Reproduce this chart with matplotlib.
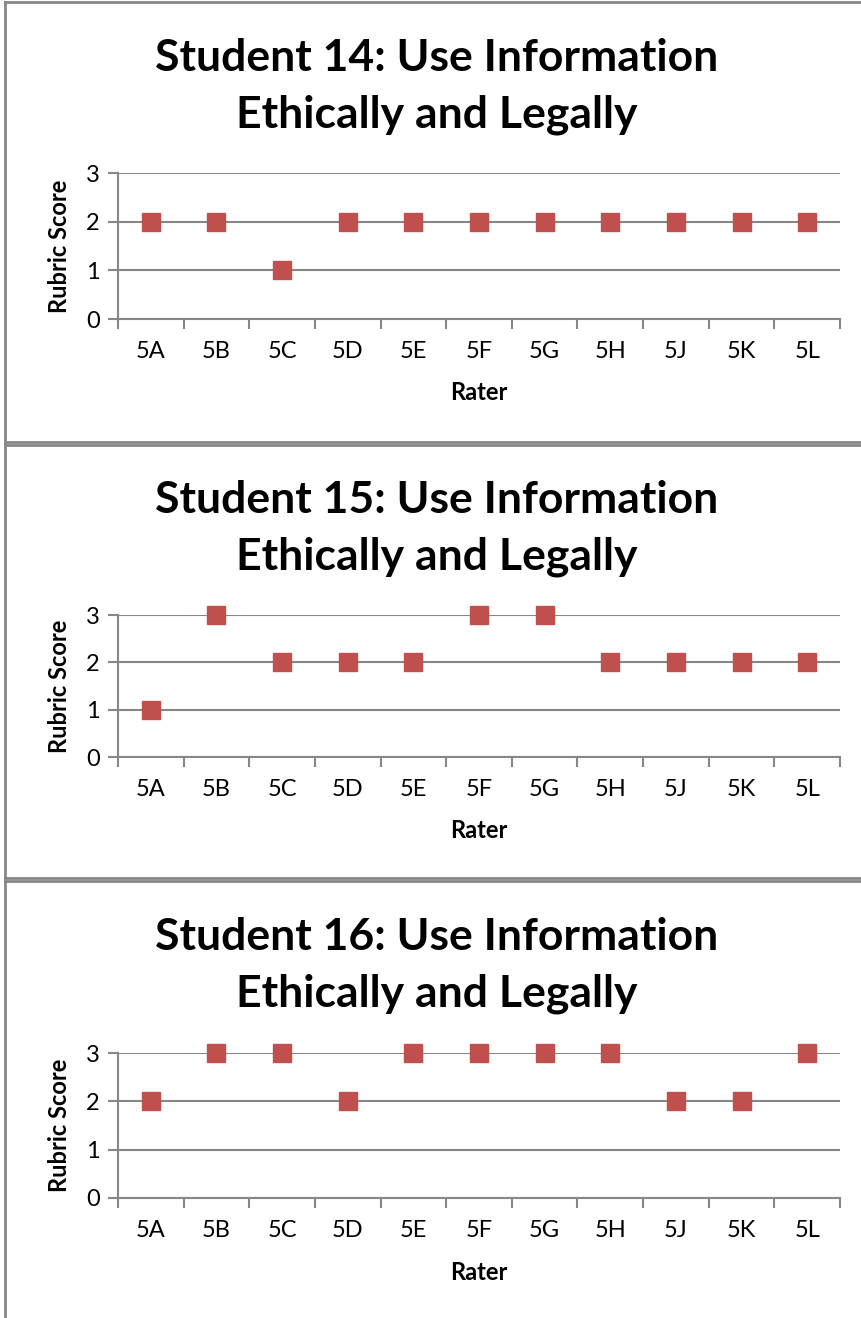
import matplotlib.pyplot as plt
import numpy as np

raters = ['5A', '5B', '5C', '5D', '5E', '5F', '5G', '5H', '5J', '5K', '5L']
students = ['Student 14', 'Student 15', 'Student 16']
score_14 = [2, 2, 1, 2, 2, 2, 2, 2, 2, 2, 2]
score_15 = [1, 3, 2, 2, 2, 3, 3, 2, 2, 2, 2]
score_16 = [2, 3, 3, 2, 3, 3, 3, 3, 2, 2, 3]
scores = [score_14, score_15, score_16]

W, H = 862, 1318
fig = plt.figure(figsize=(W / 100, H / 100), dpi=100)
plt.rcParams['font.family'] = ['Lato', 'DejaVu Sans']

grey = '#878787'
red = '#C0504D'

# pixel layout of each panel: box top, box bottom, axes top, axes bottom, title line ys
panels = [
    (2, 442, 173, 319, 58),
    (445, 878, 615, 757, 500),
    (881, None, 1053, 1198, 937),
]

def fx(x):
    return x / W

def fy(y):
    return 1 - y / H

for (top, bottom, ax_top, ax_bot, t_y), name, vals in zip(panels, students, scores):
    # panel frame
    fig.add_artist(plt.Line2D([fx(5.5), fx(5.5)], [fy(top), fy(bottom if bottom else H)],
                              color=grey, lw=2, transform=fig.transFigure))
    fig.add_artist(plt.Line2D([fx(5.5), 1], [fy(top), fy(top)],
                              color=grey, lw=2, transform=fig.transFigure))
    if bottom:
        fig.add_artist(plt.Line2D([fx(5.5), 1], [fy(bottom), fy(bottom)],
                                  color=grey, lw=2, transform=fig.transFigure))

    ax = fig.add_axes([fx(118), fy(ax_bot), fx(840 - 118), (ax_bot - ax_top) / H])
    x = np.arange(len(raters))
    ax.plot(x, vals, 's', color=red, markersize=13.5, zorder=3, clip_on=False)
    ax.set_xlim(-0.5, len(raters) - 0.5)
    ax.set_ylim(0, 3)
    ax.set_yticks([0, 1, 2, 3])
    ax.yaxis.grid(True, color=grey, lw=1.5)
    ax.set_axisbelow(True)
    for s in ['top', 'right']:
        ax.spines[s].set_visible(False)
    for s in ['left', 'bottom']:
        ax.spines[s].set_color(grey)
        ax.spines[s].set_linewidth(1.5)
    ax.set_xticks(x)
    ax.set_xticklabels(raters)
    ax.set_xticks(np.arange(-0.5, len(raters)), minor=True)
    ax.tick_params(axis='x', which='major', length=0, labelsize=17, pad=16)
    ax.tick_params(axis='x', which='minor', length=7, width=1.5, color=grey)
    ax.tick_params(axis='y', length=7, width=1.5, color=grey, labelsize=17, pad=6)

    fig.text(fx(479), fy(ax_bot + 74), 'Rater', fontsize=17, fontweight='bold',
             ha='center', va='center')
    fig.text(fx(60), fy((ax_top + ax_bot) / 2), 'Rubric Score', fontsize=17,
             fontweight='bold', ha='center', va='center', rotation=90)
    fig.text(fx(437), fy(t_y), name + ': Use Information', fontsize=32,
             fontweight='bold', ha='center', va='center')
    fig.text(fx(437), fy(t_y + 57), 'Ethically and Legally', fontsize=32,
             fontweight='bold', ha='center', va='center')

fig.savefig('out.png', dpi=100)
